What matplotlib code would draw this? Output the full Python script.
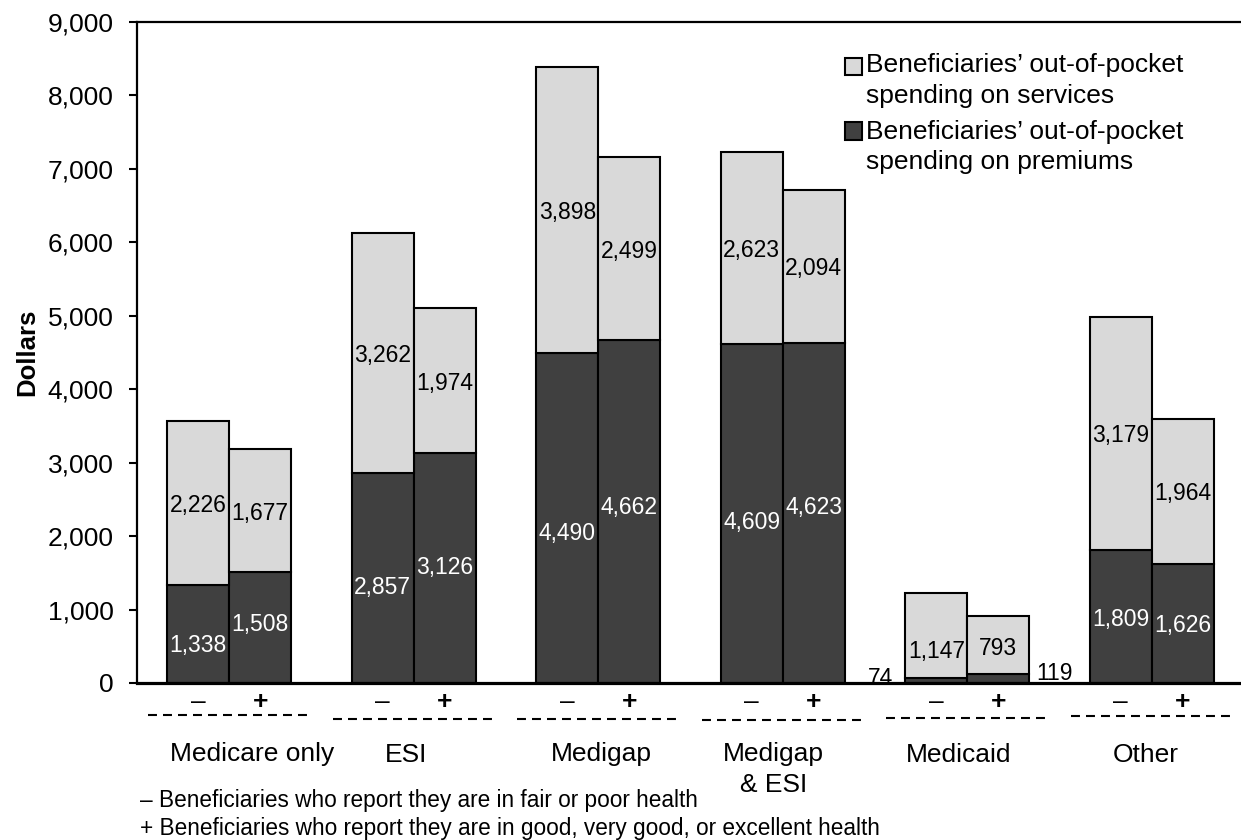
import matplotlib
matplotlib.use("Agg")
import matplotlib.pyplot as plt
import numpy as np
from matplotlib.patches import Rectangle
from matplotlib.transforms import blended_transform_factory

plt.rcParams['font.family'] = ['Liberation Sans', 'DejaVu Sans']

# ---- data -------------------------------------------------------------
categories = ["Medicare only", "ESI", "Medigap", "Medigap\n& ESI", "Medicaid", "Other"]
health_marks = ["–", "+"]          # fair/poor health, good or better health
premiums_poor = [1338, 2857, 4490, 4609, 74, 1809]
premiums_good = [1508, 3126, 4662, 4623, 119, 1626]
services_poor = [2226, 3262, 3898, 2623, 1147, 3179]
services_good = [1677, 1974, 2499, 2094, 793, 1964]
y_ticks = list(range(0, 9001, 1000))
legend_labels = ["Beneficiaries’ out-of-pocket\nspending on services",
                 "Beneficiaries’ out-of-pocket\nspending on premiums"]
footnotes = ["– Beneficiaries who report they are in fair or poor health",
             "+ Beneficiaries who report they are in good, very good, or excellent health"]

# ---- layout (pixels on a 1241 x 840 canvas) ---------------------------
W, H = 1241, 840
LIGHT, DARK = "#d9d9d9", "#404040"
BAR_W = 0.336
LABEL_FS = 16.5

# label nudges in pixels (dx right, dy down) to keep value labels apart
prem_poor_nudge = [(0, 9), (0, 7), (0, 13), (0, 6), None, (0, 0)]
prem_good_nudge = [(0, -6), (0, -3), (0, -7), (0, -8), None, (0, 0)]
serv_poor_nudge = [(0, 0), (0, 0), (0, 0), (0, 0), (0, 14), (0, 0)]
serv_good_nudge = [(0, 0), (0, 0), (0, 0), (0, 0), (0, 1), (0, 0)]
cat_dx = [23, -8, 3, -9.5, -9, -6.5]
dash_y = [715, 719, 719, 720, 718, 716]

fig = plt.figure(figsize=(W / 100, H / 100), dpi=100)
ax = fig.add_axes([137 / W, 1 - 683 / H, (1244 - 137) / W, (683 - 21.8) / H])

x = np.arange(len(categories))
xp = x - BAR_W / 2
xg = x + BAR_W / 2
bar_kw = dict(width=BAR_W, edgecolor="black", linewidth=1.5)
ax.bar(xp, premiums_poor, color=DARK, **bar_kw)
ax.bar(xg, premiums_good, color=DARK, **bar_kw)
ax.bar(xp, services_poor, bottom=premiums_poor, color=LIGHT, **bar_kw)
ax.bar(xg, services_good, bottom=premiums_good, color=LIGHT, **bar_kw)

ax.set_xlim(-0.5, 5.5)
ax.set_ylim(0, 9000)
ax.set_yticks(y_ticks)
ax.set_yticklabels([f"{v:,}" for v in y_ticks])
ax.tick_params(axis="y", direction="out", length=6, width=1.5, pad=11,
               labelsize=19, colors="black")
ax.set_xticks([])
ax.spines["right"].set_visible(False)
ax.spines["left"].set_linewidth(1.6)
ax.spines["top"].set_linewidth(1.6)
ax.spines["bottom"].set_linewidth(2.3)

ax.set_ylabel("Dollars", fontsize=18.5, fontweight="bold")
ax.yaxis.set_label_coords((39 - 137) / (1244 - 137), 0.5)


def value_label(xc, y, val, color, nudge, fs=LABEL_FS):
    dx, dy = nudge
    ax.annotate(f"{val:,}", (xc, y), xytext=(dx * 0.72, -dy * 0.72),
                textcoords="offset points", ha="center", va="center_baseline",
                fontsize=fs, color=color, annotation_clip=False)


for i in range(len(categories)):
    pp, pg = premiums_poor[i], premiums_good[i]
    sp, sg = services_poor[i], services_good[i]
    if prem_poor_nudge[i] is not None:
        value_label(xp[i], pp / 2, pp, "white", prem_poor_nudge[i])
    if prem_good_nudge[i] is not None:
        value_label(xg[i], pg / 2, pg, "white", prem_good_nudge[i])
    value_label(xp[i], pp + sp / 2, sp, "black", serv_poor_nudge[i])
    value_label(xg[i], pg + sg / 2, sg, "black", serv_good_nudge[i])

# small premium values sit beside their bars
i_mcd = categories.index("Medicaid")
ax.annotate(f"{premiums_poor[i_mcd]:,}", (xp[i_mcd] - BAR_W / 2, premiums_poor[i_mcd]),
            xytext=(-12 * 0.72, 1.5 * 0.72), textcoords="offset points",
            ha="right", va="center_baseline", fontsize=LABEL_FS, color="black")
ax.annotate(f"{premiums_good[i_mcd]:,}", (xg[i_mcd] + BAR_W / 2, premiums_good[i_mcd]),
            xytext=(7 * 0.72, 3 * 0.72), textcoords="offset points",
            ha="left", va="center_baseline", fontsize=LABEL_FS, color="black")

# health-status marks, dashed group brackets and category names
tr = blended_transform_factory(ax.transData, fig.transFigure)
for i in range(len(categories)):
    for xc, mark in zip((xp[i], xg[i]), health_marks):
        ax.text(xc, 1 - 709 / H, mark, transform=tr, ha="center", va="baseline",
                fontsize=19, fontweight="bold" if mark == "+" else "normal",
                clip_on=False)
    ax.plot([i - 0.44, i + 0.44], [1 - dash_y[i] / H] * 2, transform=tr,
            color="black", linewidth=1.5, dashes=(4.3, 2.9), clip_on=False)
    n_lines = categories[i].count("\n")
    ax.text(i + cat_dx[i] / 184.5, 1 - (761.5 + 31 * n_lines) / H, categories[i],
            transform=tr, ha="center", va="baseline", multialignment="center",
            linespacing=1.4, fontsize=19, clip_on=False)

# legend
legend_rows = [(66.5, 72.5, LIGHT), (131, 139.5, DARK)]
for (cy, base, color), text in zip(legend_rows, legend_labels):
    fig.add_artist(Rectangle((845 / W, 1 - (cy + 8.5) / H), 17 / W, 17 / H,
                             transform=fig.transFigure, facecolor=color,
                             edgecolor="black", linewidth=1.5))
    fig.text(866 / W, 1 - (base + 30) / H, text, ha="left", va="baseline",
             linespacing=1.35, fontsize=19)

# footnotes
for base, text in zip((807, 835), footnotes):
    fig.text(140 / W, 1 - base / H, text, ha="left", va="baseline", fontsize=16.3)

fig.savefig("out.png", dpi=100, facecolor="white")
